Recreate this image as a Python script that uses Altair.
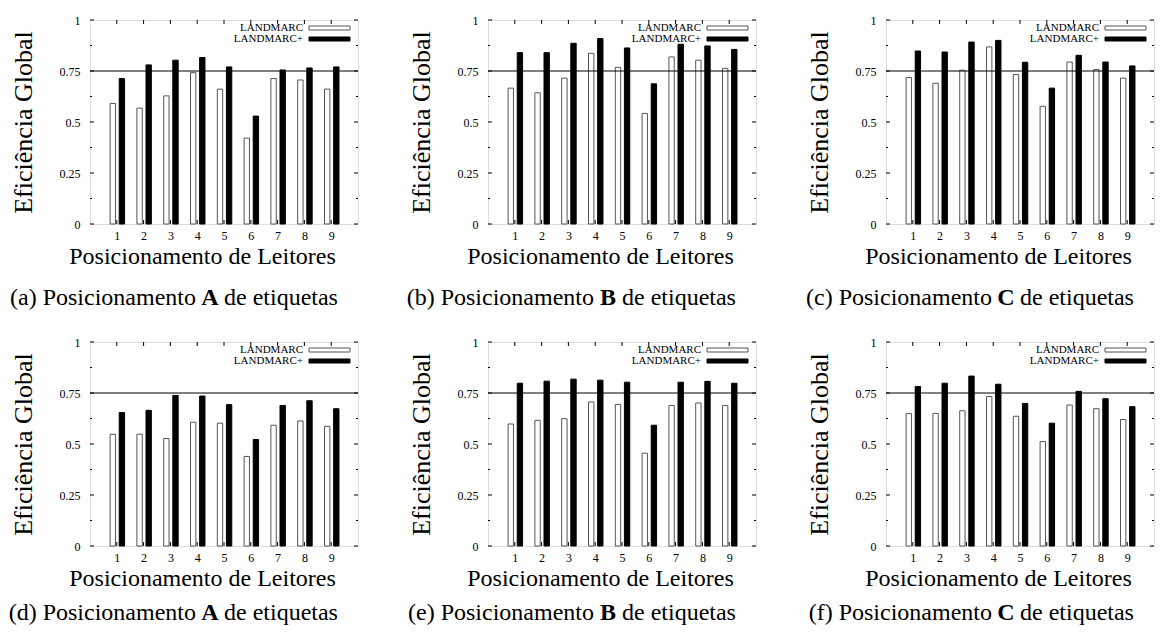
import altair as alt
import pandas as pd

# ---------------- data ----------------
positions = [1, 2, 3, 4, 5, 6, 7, 8, 9]
series_names = ["LANDMARC", "LANDMARC+"]
panel_letters = ["a", "b", "c", "d", "e", "f"]
panel_tags = ["A", "B", "C", "A", "B", "C"]

a_landmarc = [0.591, 0.568, 0.628, 0.742, 0.661, 0.421, 0.713, 0.706, 0.661]
a_plus     = [0.713, 0.780, 0.803, 0.816, 0.770, 0.529, 0.755, 0.765, 0.770]
b_landmarc = [0.666, 0.643, 0.715, 0.837, 0.768, 0.542, 0.819, 0.803, 0.763]
b_plus     = [0.840, 0.840, 0.886, 0.909, 0.863, 0.687, 0.881, 0.873, 0.856]
c_landmarc = [0.718, 0.690, 0.754, 0.868, 0.733, 0.577, 0.794, 0.757, 0.715]
c_plus     = [0.848, 0.843, 0.892, 0.900, 0.793, 0.666, 0.827, 0.794, 0.775]
d_landmarc = [0.548, 0.548, 0.527, 0.607, 0.602, 0.439, 0.592, 0.613, 0.587]
d_plus     = [0.654, 0.665, 0.738, 0.735, 0.693, 0.522, 0.689, 0.712, 0.673]
e_landmarc = [0.598, 0.616, 0.624, 0.706, 0.694, 0.455, 0.689, 0.701, 0.689]
e_plus     = [0.798, 0.808, 0.818, 0.813, 0.803, 0.592, 0.803, 0.807, 0.798]
f_landmarc = [0.649, 0.650, 0.663, 0.733, 0.636, 0.512, 0.691, 0.673, 0.620]
f_plus     = [0.782, 0.798, 0.833, 0.793, 0.699, 0.602, 0.758, 0.722, 0.683]

y_major = [0, 0.25, 0.5, 0.75, 1]
y_minor = [0.125, 0.375, 0.625, 0.875]
reference_level = [0.75]

x_title = "Posicionamento de Leitores"
y_title = "Eficiência Global"
caption_left = "Posicionamento"
caption_right = "de etiquetas"

# ---------------- style ----------------
W, H = 268, 204
SERIF = "Liberation Serif"
BIG = 24
SMALL = 12

xscale = alt.Scale(domain=[0, 10], nice=False, zero=False)
yscale = alt.Scale(domain=[0, 1], nice=False, zero=False)

xaxis = alt.Axis(values=positions, title=x_title, labelFont=SERIF, labelFontSize=SMALL,
                 titleFont=SERIF, titleFontSize=BIG, titleFontWeight="normal",
                 labelPadding=6, titlePadding=3, ticks=False, domain=False, grid=False,
                 labelOverlap=False, labelBound=False, titleX=112, titleAnchor="middle",
                 labelColor="black", titleColor="black")
yaxis = alt.Axis(values=y_major, title=y_title, labelFont=SERIF, labelFontSize=SMALL,
                 titleFont=SERIF, titleFontSize=26, titleFontWeight="normal",
                 labelPadding=10, titlePadding=23, ticks=False, domain=False, grid=False,
                 labelOverlap=False,
                 labelExpr="'' + datum.value", labelColor="black", titleColor="black")


def X(field):
    return alt.X(field, scale=xscale, axis=xaxis)


def Y(field):
    return alt.Y(field, scale=yscale, axis=yaxis)


def one(text):
    return pd.DataFrame({"t": [text]})


def panel(letter, tag, v1, v2, cap_off):
    df = pd.DataFrame({
        "pos": positions * 2,
        "series": [series_names[0]] * 9 + [series_names[1]] * 9,
        "value": v1 + v2,
    })
    base = alt.Chart(df)

    white = base.transform_filter(alt.datum.series == series_names[0]).transform_calculate(
        x0="datum.pos - 0.25", x1="datum.pos - 0.05"
    ).mark_rect(fill="white", stroke="#555555", strokeWidth=1).encode(
        x=X("x0:Q"), x2="x1:Q", y=Y("value:Q"), y2=alt.datum(0),
    )
    black = base.transform_filter(alt.datum.series == series_names[1]).transform_calculate(
        x0="datum.pos + 0.09", x1="datum.pos + 0.29"
    ).mark_rect(fill="black", stroke="black", strokeWidth=1).encode(
        x=X("x0:Q"), x2="x1:Q", y=Y("value:Q"), y2=alt.datum(0),
    )

    ref = alt.Chart(pd.DataFrame({"v": reference_level})).mark_rule(
        color="black", strokeWidth=1).encode(
        y=Y("v:Q"), x=alt.value(0), x2=alt.value(W))

    ymaj = pd.DataFrame({"v": y_major})
    ymin = pd.DataFrame({"v": y_minor})
    xt = pd.DataFrame({"p": positions})
    ticks = []
    for d, ln in ((ymaj, 4), (ymin, 2)):
        ticks.append(alt.Chart(d).mark_rule(color="black", strokeWidth=1).encode(
            y=Y("v:Q"), x=alt.value(0), x2=alt.value(ln)))
        ticks.append(alt.Chart(d).mark_rule(color="black", strokeWidth=1).encode(
            y=Y("v:Q"), x=alt.value(W - ln), x2=alt.value(W)))
    ticks.append(alt.Chart(xt).mark_rule(color="black", strokeWidth=1).encode(
        x=X("p:Q"), y=alt.value(H - 4), y2=alt.value(H)))
    ticks.append(alt.Chart(xt).mark_rule(color="black", strokeWidth=1).encode(
        x=X("p:Q"), y=alt.value(0), y2=alt.value(4)))

    # legend (key box inside plot, top right)
    leg = [
        alt.Chart(one(series_names[0])).mark_text(
            font=SERIF, fontSize=11, align="right", baseline="middle", color="black"
        ).encode(text="t:N", x=alt.value(W - 55), y=alt.value(8)),
        alt.Chart(one(series_names[1])).mark_text(
            font=SERIF, fontSize=11, align="right", baseline="middle", color="black"
        ).encode(text="t:N", x=alt.value(W - 55), y=alt.value(19)),
        alt.Chart(one("k")).mark_rect(fill="white", stroke="#555555", strokeWidth=1).encode(
            x=alt.value(W - 49), x2=alt.value(W - 8), y=alt.value(6), y2=alt.value(10)),
        alt.Chart(one("k")).mark_rect(fill="black", stroke="black", strokeWidth=1).encode(
            x=alt.value(W - 49), x2=alt.value(W - 8), y=alt.value(17), y2=alt.value(21)),
    ]

    # caption "(x) Posicionamento X de etiquetas"
    tag_x = 120
    cap_y = H + cap_off
    cap = [
        alt.Chart(one(f"({letter}) {caption_left}")).mark_text(
            font=SERIF, fontSize=BIG, align="right", baseline="middle", color="black"
        ).encode(text="t:N", x=alt.value(tag_x - 14), y=alt.value(cap_y)),
        alt.Chart(one(tag)).mark_text(
            font=SERIF, fontSize=BIG, fontWeight="bold", align="center", baseline="middle",
            color="black"
        ).encode(text="t:N", x=alt.value(tag_x), y=alt.value(cap_y)),
        alt.Chart(one(caption_right)).mark_text(
            font=SERIF, fontSize=BIG, align="left", baseline="middle", color="black"
        ).encode(text="t:N", x=alt.value(tag_x + 14), y=alt.value(cap_y)),
    ]

    return alt.layer(white, black, ref, *ticks, *leg, *cap).properties(width=W, height=H)


vals = [(a_landmarc, a_plus), (b_landmarc, b_plus), (c_landmarc, c_plus),
        (d_landmarc, d_plus), (e_landmarc, e_plus), (f_landmarc, f_plus)]
cap_offsets = [74, 74, 74, 67, 67, 67]
panels = [panel(panel_letters[i], panel_tags[i], *vals[i], cap_offsets[i]) for i in range(6)]

chart = alt.concat(
    *panels, columns=3, spacing=alt.RowColnumber(row=118, column=130), bounds="flush"
).properties(
    padding={"left": 0, "top": 5, "right": 0, "bottom": 0}
).configure_view(stroke="black", strokeWidth=1).configure_axis(
    labelOverlap=False
).configure(background="white")

chart.save("out.html", embed_options={"renderer": "svg", "actions": False})
